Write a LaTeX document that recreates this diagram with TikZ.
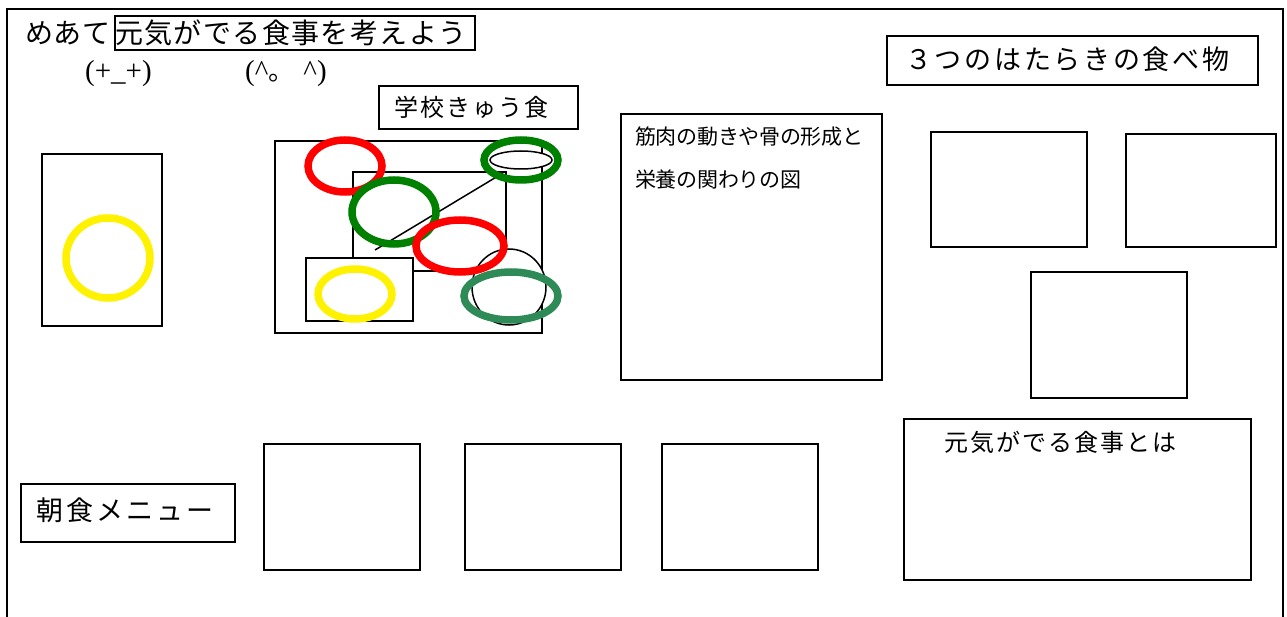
\documentclass[tikz,border=0pt]{standalone}
\usepackage{fontspec}
\setmainfont{Liberation Serif}
\newfontfamily\jp{Noto Sans CJK JP}
\newcommand\spgap{0pt}
\makeatletter
\newcommand\spaced[2]{\renewcommand\spgap{#1}\spaced@loop#2\relax}
\def\spaced@loop#1{\ifx#1\relax\else#1\hspace{\spgap}\expandafter\spaced@loop\fi}
\makeatother
\begin{document}
\begin{tikzpicture}[x=1pt,y=-1pt,
  box/.style={draw=black,line width=1.8pt,inner sep=0pt,anchor=north west},
  thin/.style={draw=black,line width=1.5pt},
  lbl/.style={anchor=west,inner sep=0pt,font=\jp},
  ring/.style={line width=7.5pt}]
\useasboundingbox[fill=white] (0,0) rectangle (1287,617);
% outer frame
\coordinate (fbl) at (7,625);
\coordinate (ftl) at (7,9);
\coordinate (ftr) at (1283,9);
\coordinate (fbr) at (1283,625);
\draw[line width=2.2pt] (fbl) -- (ftl) -- (ftr) -- (fbr);
% title
\node[lbl,font=\jp\fontsize{28}{28}\selectfont] (meate) at (25,33) {\spaced{0.5pt}{めあて}};
\node[box,minimum width=360pt,minimum height=34pt] (titlebox) at (114,15) {};
\node[lbl,font=\jp\fontsize{28}{28}\selectfont] (title) at (115,33) {\spaced{1.4pt}{元気がでる食事を考えよう}};
\node[anchor=west,inner sep=0pt,font=\fontsize{29}{29}\selectfont] (face1) at (85,74) {(+\_+)};
\node[anchor=west,inner sep=0pt,font=\fontsize{29}{29}\selectfont] (face2) at (245,74) {(\^{}{\jp\fontsize{26}{26}\selectfont 。}\hspace{9pt}\^{})};
% school lunch
\node[box,minimum width=199pt,minimum height=43pt] (lunchbox) at (378,85) {};
\node[lbl,font=\jp\fontsize{24}{24}\selectfont] (lunch) at (394,107) {\spaced{2pt}{学校きゅう食}};
% left box
\node[box,minimum width=120pt,minimum height=172pt] (leftbox) at (41,153) {};
\draw[ring,yellow] (108,258) ellipse [x radius=42, y radius=40];
% tray picture
\node[box,minimum width=267pt,minimum height=192pt] (tray) at (274,140) {};
\node[box,minimum width=153pt,minimum height=99pt] (plate) at (352,171) {};
\node[box,fill=white,minimum width=107pt,minimum height=63pt] (bowl) at (305,257) {};
\coordinate (chopA) at (375,250);
\coordinate (chopB) at (503,173);
\draw[thin] (chopA) -- (chopB);
\draw[thin,fill=white] (509,287) ellipse [x radius=37, y radius=38];
\draw[thin,fill=white] (521,160) ellipse [x radius=31, y radius=9];
\draw[ring,red] (345,166) ellipse [x radius=37, y radius=26];
\draw[ring,green!50!black] (394,212) ellipse [x radius=42, y radius=32];
\draw[ring,green!50!black] (521,160) ellipse [x radius=37, y radius=20];
\draw[ring,red] (460,246) ellipse [x radius=44, y radius=26];
\draw[ring,yellow] (355,294) ellipse [x radius=37, y radius=25];
\draw[ring,color={rgb,255:red,46;green,139;blue,87}] (511,296) ellipse [x radius=47, y radius=24];
% muscle box
\node[box,minimum width=261pt,minimum height=266pt] (muscle) at (620,113) {};
\node[lbl,font=\jp\fontsize{21}{21}\selectfont] (mus1) at (635,137) {\spaced{-0.3pt}{筋肉の動きや骨の形成と}};
\node[lbl,font=\jp\fontsize{21}{21}\selectfont] (mus2) at (635,180) {\spaced{-0.3pt}{栄養の関わりの図}};
% three functions
\node[box,minimum width=371pt,minimum height=49pt] (threebox) at (886,35) {};
\node[lbl,font=\jp\fontsize{27}{27}\selectfont] (three) at (905,59) {\spaced{2.7pt}{３つのはたらきの食べ物}};
\node[box,minimum width=156pt,minimum height=115pt] (r1) at (930,131) {};
\node[box,minimum width=150pt,minimum height=113pt] (r2) at (1125,133) {};
\node[box,minimum width=156pt,minimum height=126pt] (r3) at (1030,271) {};
% genki box
\node[box,minimum width=347pt,minimum height=161pt] (genkibox) at (903,418) {};
\node[lbl,font=\jp\fontsize{24}{24}\selectfont] (genki) at (944,442) {\spaced{2pt}{元気がでる食事とは}};
% breakfast
\node[box,minimum width=214pt,minimum height=58pt] (bfbox) at (20,483) {};
\node[lbl,font=\jp\fontsize{27}{27}\selectfont] (bf) at (36,510) {\spaced{3pt}{朝食メニュー}};
\node[box,minimum width=156pt,minimum height=126pt] (b1) at (263,443) {};
\node[box,minimum width=156pt,minimum height=126pt] (b2) at (464,443) {};
\node[box,minimum width=156pt,minimum height=126pt] (b3) at (661,443) {};
\end{tikzpicture}
\end{document}
